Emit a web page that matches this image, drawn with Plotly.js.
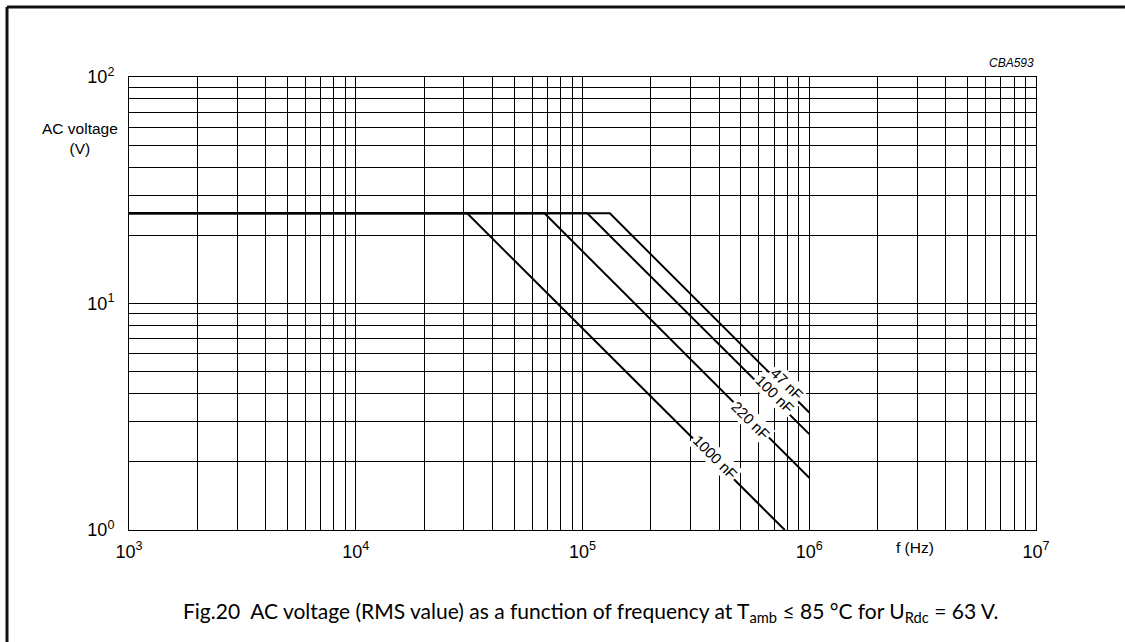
<!DOCTYPE html>
<html><head><meta charset="utf-8">
<script src="https://cdn.plot.ly/plotly-3.0.1.min.js"></script>
<style>html,body{margin:0;padding:0;background:#fff;overflow:hidden}#chart{width:1125px;height:642px;overflow:hidden}</style>
</head><body><div id="chart"></div>
<script>
// ---- data ----
const capacitances = ['1000 nF', '220 nF', '100 nF', '47 nF'];
const freq1000 = [1e3, 31e3, 780e3];
const volt1000 = [25, 25, 1.0];
const freq220 = [1e3, 68e3, 1e6];
const volt220 = [25, 25, 1.7];
const freq100 = [1e3, 105e3, 1e6];
const volt100 = [25, 25, 2.65];
const freq47 = [1e3, 132e3, 1e6];
const volt47 = [25, 25, 3.3];
const xDecades = [3, 4, 5, 6, 7];
const yDecades = [0, 1, 2];

// ---- label placement (annotation positions, data coords) ----
const labelPos = [
  {f: 387e3, v: 2.1},
  {f: 552e3, v: 3.04},
  {f: 706e3, v: 3.95},
  {f: 795e3, v: 4.44}
];

function gridVals(decs) {
  const vals = [], text = [];
  for (let i = 0; i < decs.length; i++) {
    const d = decs[i];
    vals.push(Math.pow(10, d)); text.push('10<sup>' + d + '</sup>');
    if (i < decs.length - 1) {
      for (let m = 2; m <= 9; m++) { vals.push(m * Math.pow(10, d)); text.push(''); }
    }
  }
  return {vals, text};
}
const gx = gridVals(xDecades), gy = gridVals(yDecades);

const series = [[freq1000, volt1000], [freq220, volt220], [freq100, volt100], [freq47, volt47]];
const traces = series.map((s, i) => ({
  x: s[0], y: s[1], type: 'scatter', mode: 'lines', name: capacitances[i],
  line: {color: '#000', width: 2}, hoverinfo: 'skip', cliponaxis: false
}));

const font = 'Liberation Sans, Arial, sans-serif';
const annotations = capacitances.map((c, i) => ({
  x: Math.log10(labelPos[i].f), y: Math.log10(labelPos[i].v), xref: 'x', yref: 'y',
  text: c, showarrow: false, textangle: 45, bgcolor: '#fff', borderpad: 1,
  font: {family: font, size: 15, color: '#000'}
}));
annotations.push(
  {x: -0.054, y: 0.865, xref: 'paper', yref: 'paper', text: 'AC voltage<br>(V)', showarrow: false,
   font: {family: font, size: 15.5, color: '#000'}, xanchor: 'center', yanchor: 'middle'},
  {x: 0.8666, y: -0.0397, xref: 'paper', yref: 'paper', text: 'f (Hz)', showarrow: false,
   font: {family: font, size: 15.5, color: '#000'}, xanchor: 'center', yanchor: 'middle'},
  {x: 1, y: 1.031, xref: 'paper', yref: 'paper', text: '<i>CBA593</i>', showarrow: false,
   font: {family: font, size: 12, color: '#000'}, xanchor: 'right', yanchor: 'middle'},
  {x: 0.509, y: -0.181, xref: 'paper', yref: 'paper',
   text: 'Fig.20  AC voltage (RMS value) as a function of frequency at T<sub>amb</sub> ≤ 85 °C for U<sub>Rdc</sub> = 63 V.',
   showarrow: false, font: {family: 'Lato, Open Sans, sans-serif', size: 21, color: '#000'},
   xanchor: 'center', yanchor: 'middle'}
);

const axisCommon = {
  type: 'log', showgrid: true, gridcolor: '#000', gridwidth: 1, zeroline: false,
  showline: true, linecolor: '#000', linewidth: 1, mirror: true, ticks: '',
  tickmode: 'array', tickfont: {family: font, size: 18, color: '#000'}, fixedrange: true
};

const layout = {
  width: 1125, height: 642, margin: {l: 129, r: 89, t: 77, b: 112},
  paper_bgcolor: '#fff', plot_bgcolor: '#fff', showlegend: false,
  xaxis: Object.assign({}, axisCommon, {range: [3, 7], tickvals: gx.vals, ticktext: gx.text, ticklabelstandoff: 5}),
  yaxis: Object.assign({}, axisCommon, {range: [0, 2], tickvals: gy.vals, ticktext: gy.text, ticklabelstandoff: 10}),
  annotations: annotations,
  shapes: [
    {type: 'line', xref: 'paper', yref: 'paper', x0: -0.1345, x1: 1.0981, y0: 1.1545, y1: 1.1545,
     line: {color: '#111', width: 3}, layer: 'above'},
    {type: 'line', xref: 'paper', yref: 'paper', x0: -0.1345, x1: -0.1345, y0: -0.3, y1: 1.1545,
     line: {color: '#111', width: 3}, layer: 'above'}
  ]
};

Plotly.newPlot('chart', traces, layout, {staticPlot: true, displayModeBar: false});
</script></body></html>
